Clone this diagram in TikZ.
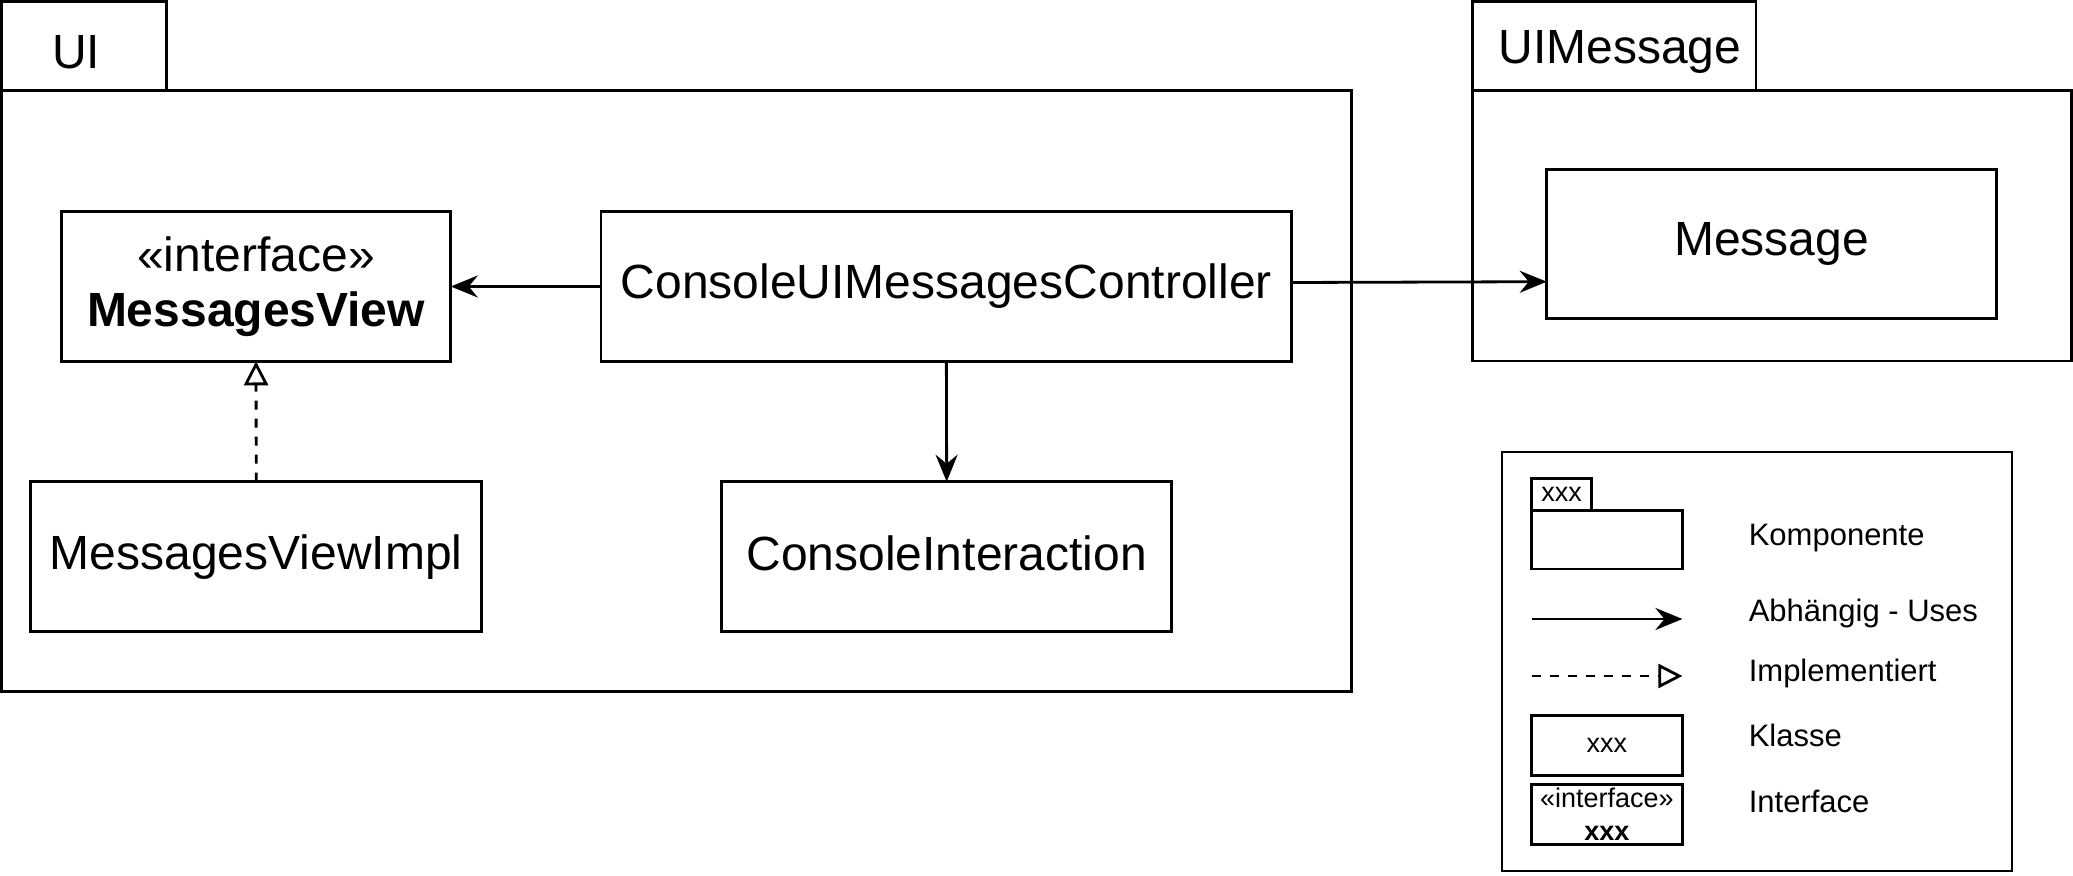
\documentclass[tikz,border=0pt]{standalone}
\usepackage{fontspec}
\setmainfont{Liberation Sans}
\usetikzlibrary{arrows.meta}
\begin{document}
\begin{tikzpicture}[x=0.5pt,y=-0.5pt,
  line width=1.4pt,
  box/.style={draw, inner sep=0pt, outer sep=0pt, line width=1.4pt, anchor=north west},
  bigtxt/.style={font=\fontsize{24}{27.5}\selectfont},
  legtxt/.style={font=\fontsize{15.5}{18}\selectfont, anchor=west, inner sep=0pt},
  smalltxt/.style={font=\fontsize{13.5}{16.5}\selectfont},
  dep/.style={-{Stealth[length=13.5pt,width=11pt,inset=4.5pt]}},
  impl/.style={dash pattern=on 4.5pt off 4.5pt, -{Triangle[open,length=12pt,width=12pt,fill=white]}}
]
\useasboundingbox (0,0) rectangle (2073,876);

% package UI
\node[box, minimum width=82.6pt, minimum height=44.6pt] (uitab) at (1.5,1.5) {};
\node[box, minimum width=675.1pt, minimum height=300.4pt] (uibody) at (1.5,90.7) {};
\node[bigtxt, anchor=base, inner sep=0pt] (uilabel) at (76,69) {UI};

% package UIMessage
\node[box, minimum width=141.65pt, minimum height=44.6pt] (umtab) at (1472.7,1.5) {};
\node[box, minimum width=299.4pt, minimum height=135.15pt] (umbody) at (1472.7,90.7) {};
\node[bigtxt, anchor=base, inner sep=0pt] (umlabel) at (1620,63.3) {UIMessage};

% classes
\node[box, bigtxt, align=center, minimum width=194.75pt, minimum height=74.8pt] (mv) at (61.3,211.7) {«interface»\\\textbf{MessagesView}};
\node[box, bigtxt, minimum width=345.35pt, minimum height=74.8pt] (ctrl) at (601,211.7) {ConsoleUIMessagesController};
\node[box, bigtxt, minimum width=225.4pt, minimum height=75pt] (mvi) at (30.8,481.7) {MessagesViewImpl};
\node[box, bigtxt, minimum width=225.1pt, minimum height=75pt, text depth=4pt] (ci) at (721.6,481.7) {ConsoleInteraction};
\node[box, bigtxt, minimum width=224.85pt, minimum height=74.7pt] (msg) at (1546.7,169.2) {Message};

% connectors
\draw[dep] (ctrl.west) -- (mv.east);
\draw[impl] (mvi.north) -- (mv.south);
\draw[dep] (ctrl.south) -- (ci.north);
\draw[dep] ([yshift=2pt]ctrl.east) -- ([yshift=-18.9pt]msg.west);

% legend
\node[box, minimum width=255pt, minimum height=209.5pt] (legend) at (1502,452) {};
\node[box, smalltxt, minimum width=30.15pt, minimum height=16.2pt] (legtab) at (1531.5,478.3) {xxx};
\node[box, minimum width=75.45pt, minimum height=29.15pt] (legpkg) at (1531.5,510.7) {};
\coordinate (la1) at (1531.5,619);
\coordinate (la2) at (1682.4,619);
\draw[dep] (la1) -- (la2);
\coordinate (li1) at (1531.5,676);
\coordinate (li2) at (1682.4,676);
\draw[impl] (li1) -- (li2);
\node[box, smalltxt, minimum width=75.45pt, minimum height=30pt] (legclass) at (1531.5,715.7) {xxx};
\node[box, smalltxt, align=center, minimum width=75.45pt, minimum height=30pt] (legif) at (1531.5,784.3) {«interface»\\\textbf{xxx}};

\node[legtxt] (t1) at (1747.4,538) {Komponente};
\node[legtxt] (t2) at (1747.4,613) {Abhängig - Uses};
\node[legtxt] (t3) at (1747.4,673) {Implementiert};
\node[legtxt] (t4) at (1747.4,735) {Klasse};
\node[legtxt] (t5) at (1747.4,801.7) {Interface};
\end{tikzpicture}
\end{document}
